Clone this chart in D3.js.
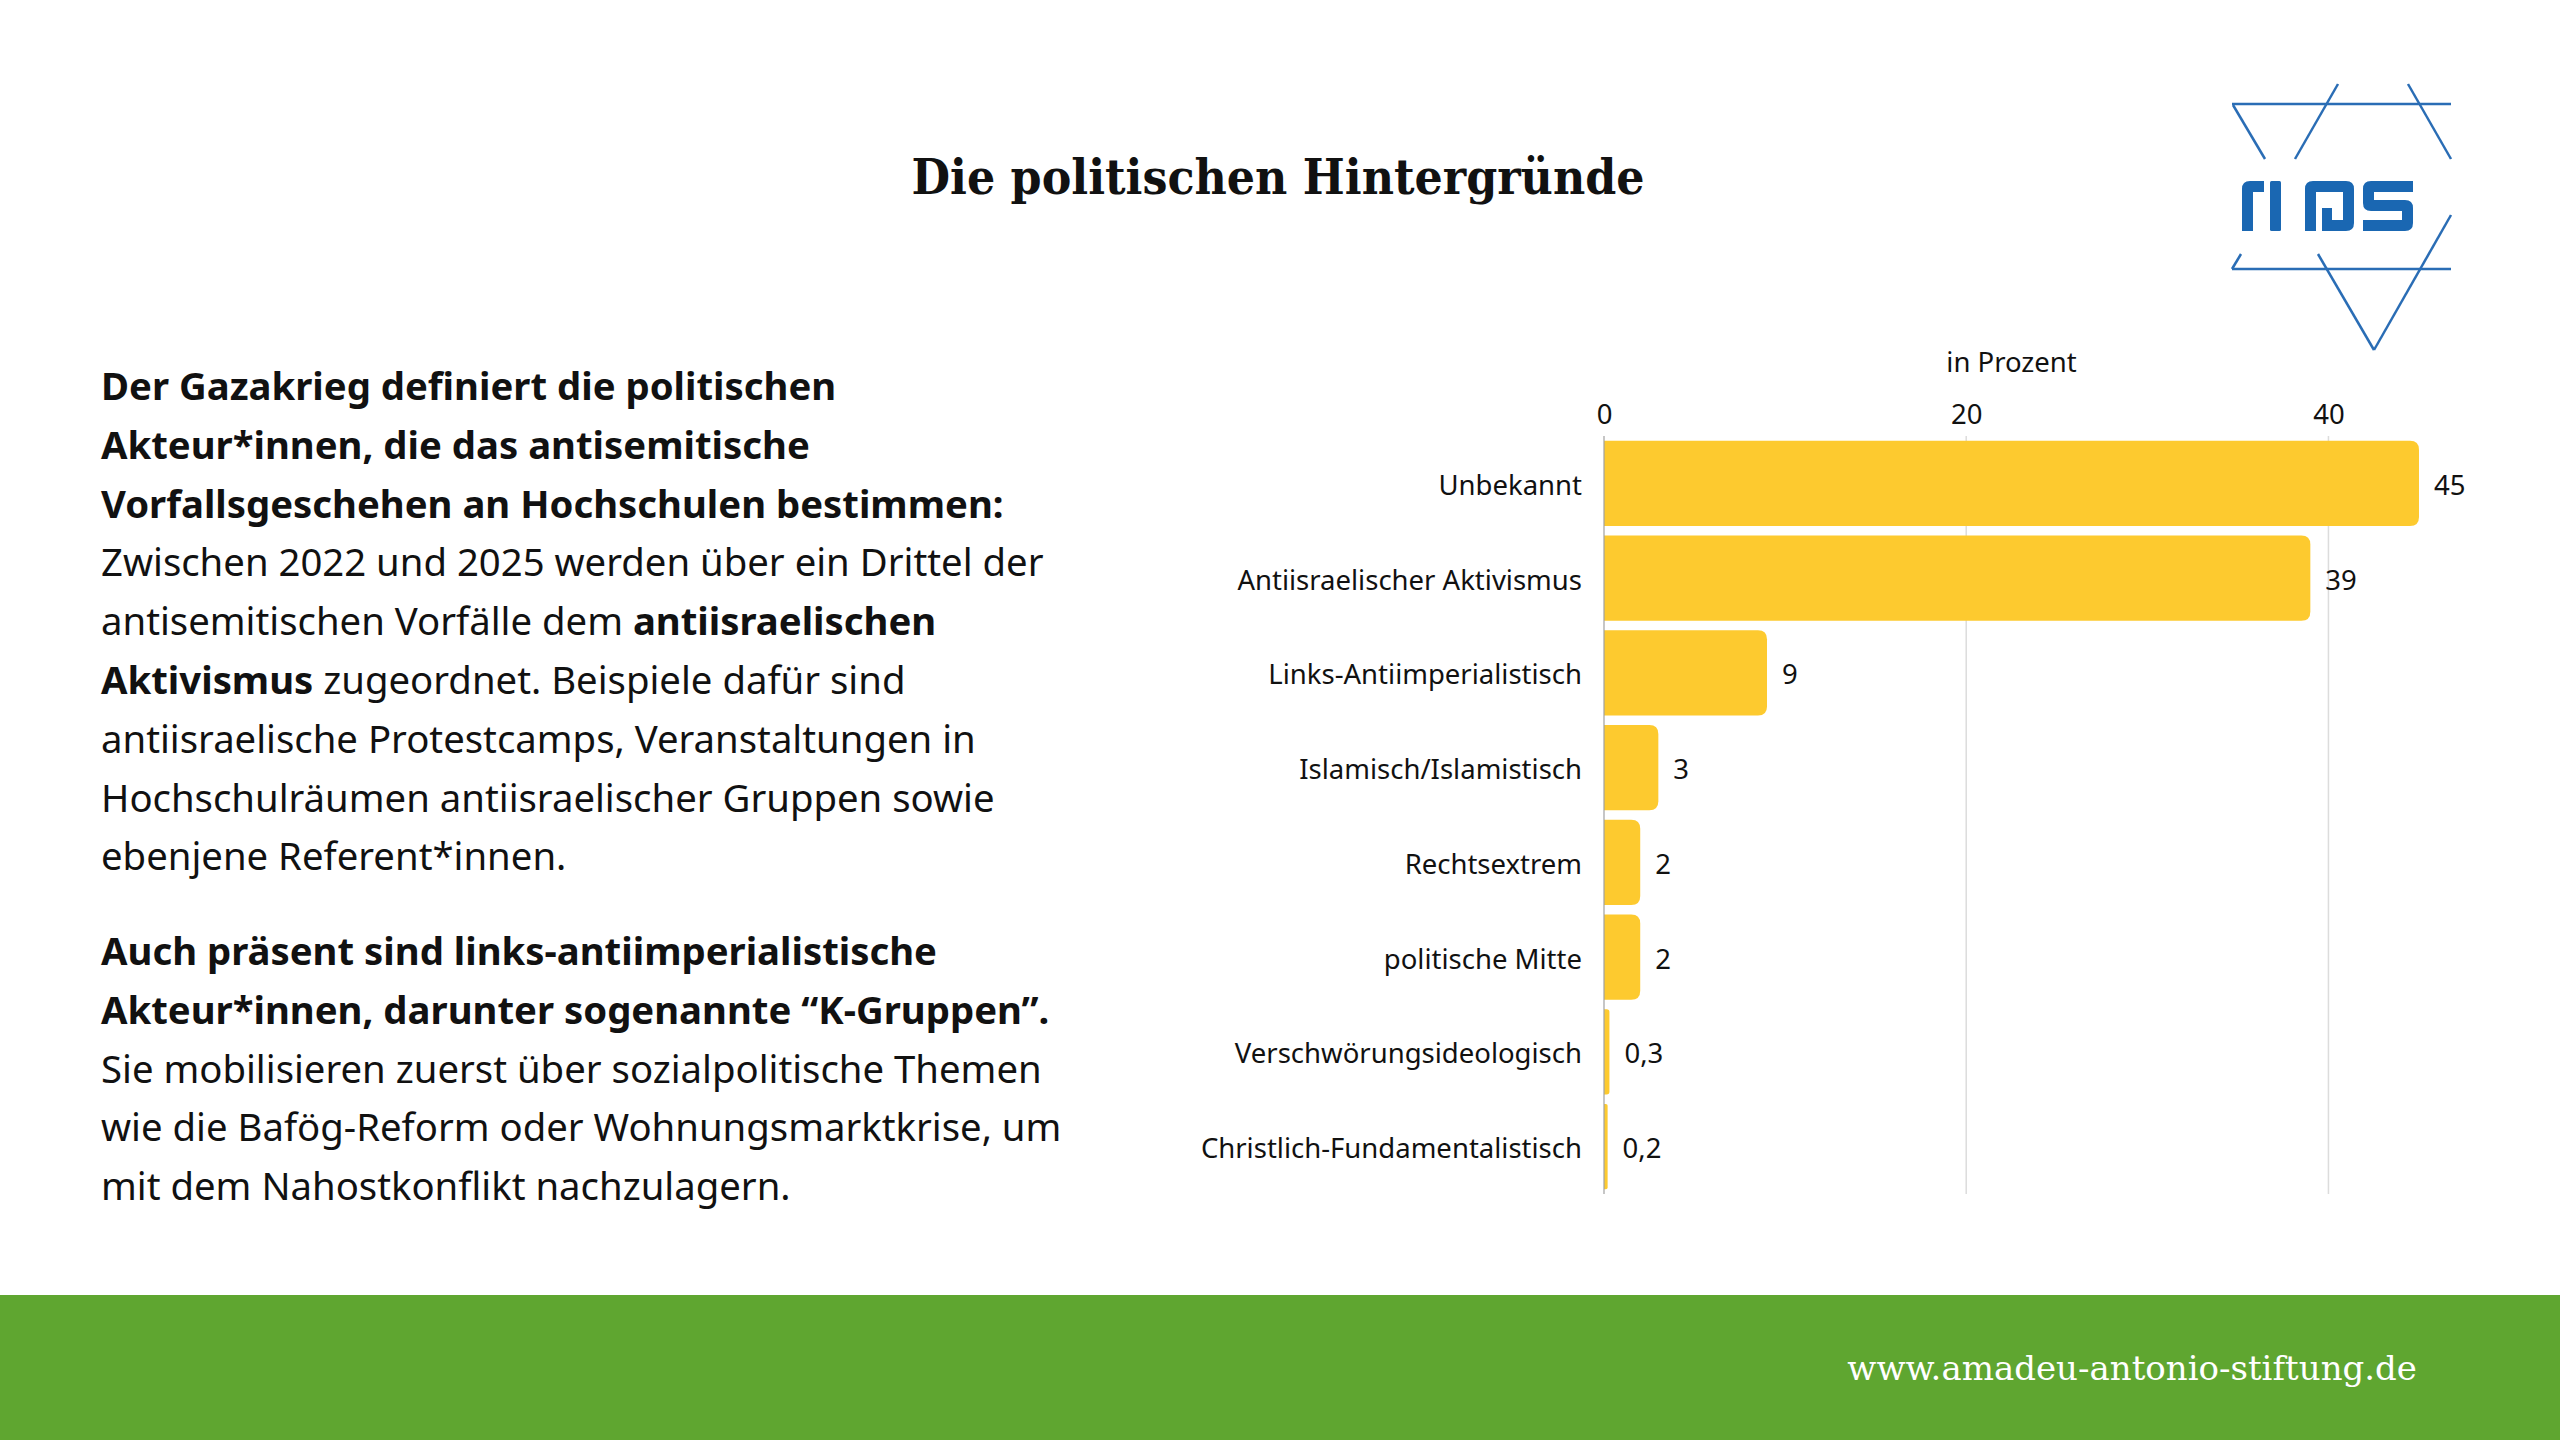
<!DOCTYPE html>
<html>
<head>
<meta charset="utf-8">
<script src="https://cdn.jsdelivr.net/npm/d3@7"></script>
<style>
  html, body { margin: 0; padding: 0; background: #fff; }
  svg { display: block; }
</style>
</head>
<body>
<div id="chart"></div>
<script>
const categories = [
  "Unbekannt",
  "Antiisraelischer Aktivismus",
  "Links-Antiimperialistisch",
  "Islamisch/Islamistisch",
  "Rechtsextrem",
  "politische Mitte",
  "Verschwörungsideologisch",
  "Christlich-Fundamentalistisch"
];
const values = [45, 39, 9, 3, 2, 2, 0.3, 0.2];
const xTicks = [0, 20, 40];

// left text: each line is a list of [text, bold]
const textBlock1 = [
  [["Der Gazakrieg definiert die politischen", true]],
  [["Akteur*innen, die das antisemitische", true]],
  [["Vorfallsgeschehen an Hochschulen bestimmen:", true]],
  [["Zwischen 2022 und 2025 werden über ein Drittel der", false]],
  [["antisemitischen Vorfälle dem ", false], ["antiisraelischen", true]],
  [["Aktivismus", true], [" zugeordnet. Beispiele dafür sind", false]],
  [["antiisraelische Protestcamps, Veranstaltungen in", false]],
  [["Hochschulräumen antiisraelischer Gruppen sowie", false]],
  [["ebenjene Referent*innen.", false]]
];
const textBlock2 = [
  [["Auch präsent sind links-antiimperialistische", true]],
  [["Akteur*innen, darunter sogenannte “K-Gruppen”.", true]],
  [["Sie mobilisieren zuerst über sozialpolitische Themen", false]],
  [["wie die Bafög-Reform oder Wohnungsmarktkrise, um", false]],
  [["mit dem Nahostkonflikt nachzulagern.", false]]
];

const W = 2560, H = 1440;
const sans = "'Noto Sans', 'Open Sans', sans-serif";
const serif = "'DejaVu Serif', 'Liberation Serif', serif";

const svg = d3.select("#chart").append("svg")
  .attr("width", W).attr("height", H)
  .attr("viewBox", `0 0 ${W} ${H}`);

// Titel
svg.append("text")
  .attr("x", 1278).attr("y", 194)
  .attr("text-anchor", "middle")
  .attr("font-family", serif)
  .attr("font-weight", "700")
  .attr("font-size", 48)
  .attr("textLength", 733)
  .attr("lengthAdjust", "spacingAndGlyphs")
  .attr("fill", "#111")
  .text("Die politischen Hintergründe");

// Fließtext links
function drawBlock(lines, y0) {
  const t = svg.append("text")
    .attr("font-family", sans)
    .attr("font-size", 38.3)
    .attr("fill", "#111");
  lines.forEach((parts, i) => {
    parts.forEach(([s, b], j) => {
      const ts = t.append("tspan").text(s).attr("font-weight", b ? "700" : "400");
      if (j === 0) ts.attr("x", 101).attr("y", y0 + i * 58.8);
    });
  });
}
drawBlock(textBlock1, 400);
drawBlock(textBlock2, 965);

// Diagramm
const margin = { left: 1604, top: 436 };
const plotH = 1194 - 436;

const x = d3.scaleLinear().domain([0, 45]).range([0, 815]);
const y = d3.scaleBand().domain(categories).range([0, plotH]).paddingInner(0.1).paddingOuter(0.05);

const g = svg.append("g").attr("transform", `translate(${margin.left},${margin.top})`);

// Gitterlinien
g.append("g")
  .selectAll("line")
  .data(xTicks.filter(d => d > 0))
  .join("line")
  .attr("x1", d => x(d)).attr("x2", d => x(d))
  .attr("y1", 0).attr("y2", plotH)
  .attr("stroke", "#dcdcdc").attr("stroke-width", 1.5);

// Achse oben
const xAxis = g.append("g")
  .call(d3.axisTop(x).tickValues(xTicks).tickSize(0).tickPadding(12));
xAxis.select(".domain").remove();
xAxis.selectAll("text")
  .attr("font-family", sans)
  .attr("font-size", 27.5)
  .attr("fill", "#111");

g.append("text")
  .attr("x", x.range()[1] / 2)
  .attr("y", -64)
  .attr("text-anchor", "middle")
  .attr("font-family", sans)
  .attr("font-size", 27.5)
  .attr("fill", "#111")
  .text("in Prozent");

const data = categories.map((c, i) => ({ cat: c, val: values[i] }));

// Balken mit abgerundeten rechten Ecken
const barPath = d => {
  const w = x(d.val), h = y.bandwidth(), y0 = y(d.cat);
  const r = Math.min(9, w / 2, h / 2);
  return `M0,${y0}H${w - r}Q${w},${y0} ${w},${y0 + r}V${y0 + h - r}Q${w},${y0 + h} ${w - r},${y0 + h}H0Z`;
};
g.append("g")
  .selectAll("path")
  .data(data)
  .join("path")
  .attr("d", barPath)
  .attr("fill", "#fdca2f");

// Nulllinie
g.append("line")
  .attr("x1", 0).attr("x2", 0)
  .attr("y1", 0).attr("y2", plotH)
  .attr("stroke", "#a0a0a0").attr("stroke-width", 1.2);

// Kategorien
const yAxis = g.append("g")
  .call(d3.axisLeft(y).tickSize(0).tickPadding(22));
yAxis.select(".domain").remove();
yAxis.selectAll("text")
  .attr("font-family", sans)
  .attr("font-size", 27.5)
  .attr("dy", "0.42em")
  .attr("fill", "#111");

// Werte
const fmt = d3.formatLocale({ decimal: ",", thousands: ".", grouping: [3], currency: ["", " €"] }).format("~g");
g.append("g")
  .selectAll("text")
  .data(data)
  .join("text")
  .attr("x", d => x(d.val) + 15)
  .attr("y", d => y(d.cat) + y.bandwidth() / 2)
  .attr("dy", "0.42em")
  .attr("font-family", sans)
  .attr("font-size", 27.5)
  .attr("fill", "#111")
  .text(d => fmt(d.val));

// Logo
const logo = svg.append("g").attr("stroke", "#2a6db5").attr("stroke-width", 2.5).attr("fill", "none");
const logoLines = [
  [2232, 104, 2451, 104], [2233, 105, 2265, 159], [2338, 84, 2295, 159], [2408, 84, 2451, 159],
  [2232, 269, 2451, 269], [2241, 254, 2232, 269], [2318, 254, 2374, 350], [2374, 350, 2451, 215]
];
logo.selectAll("line").data(logoLines).join("line")
  .attr("x1", d => d[0]).attr("y1", d => d[1]).attr("x2", d => d[2]).attr("y2", d => d[3]);

const blue = "#1a67b2";
const lg = svg.append("g").attr("fill", blue);
// r
lg.append("path").attr("d", "M2242,231V189Q2242,181 2250,181H2264V192H2253V231Z");
// i
lg.append("rect").attr("x", 2270).attr("y", 181).attr("width", 11).attr("height", 50).attr("rx", 1.5);
// a
lg.append("path").attr("d", "M2305,231V189Q2305,181 2313,181H2346Q2354,181 2354,189V223Q2354,231 2346,231H2322V208H2332V220H2343V192H2316V231Z");
// s
lg.append("path").attr("d", "M2371,181H2413V192H2374V200H2405Q2413,200 2413,208V223Q2413,231 2405,231H2363V220H2402V211H2371Q2363,211 2363,203V189Q2363,181 2371,181Z");

// Fußzeile
svg.append("rect").attr("x", 0).attr("y", 1295).attr("width", W).attr("height", H - 1295).attr("fill", "#5fa630");
svg.append("text")
  .attr("x", 2417).attr("y", 1380)
  .attr("text-anchor", "end")
  .attr("font-family", serif)
  .attr("font-size", 34)
  .attr("fill", "#fff")
  .text("www.amadeu-antonio-stiftung.de");
</script>
</body>
</html>
